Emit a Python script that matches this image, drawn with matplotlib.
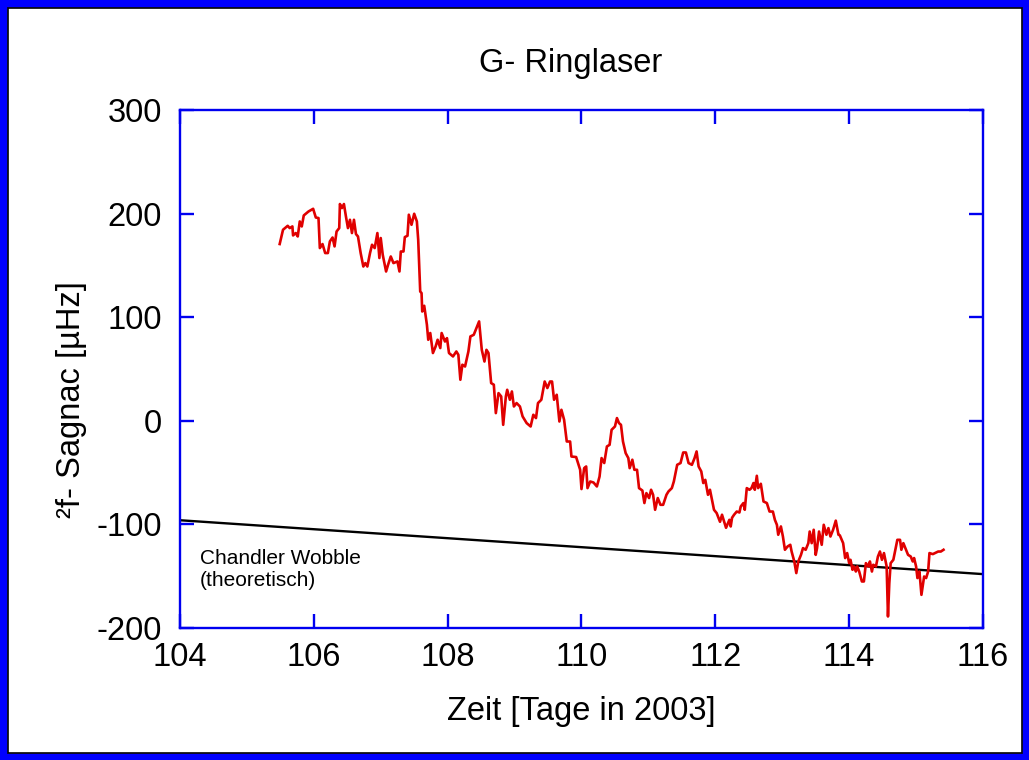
import matplotlib
matplotlib.use("Agg")
import matplotlib.pyplot as plt
from matplotlib.patches import Rectangle

plt.rcParams['font.family'] = ['Liberation Sans', 'DejaVu Sans']
plt.rcParams['axes.unicode_minus'] = False

# ---------- DATA ----------
days = [
    105.49, 105.54, 105.61, 105.64, 105.68, 105.69, 105.73, 105.76, 105.79, 105.82,
    105.85, 105.92, 105.99, 106.03, 106.07, 106.09, 106.13, 106.17, 106.21, 106.24,
    106.28, 106.31, 106.34, 106.38, 106.39, 106.42, 106.45, 106.48, 106.51, 106.54,
    106.57, 106.60, 106.63, 106.66, 106.70, 106.74, 106.77, 106.80, 106.84, 106.87,
    106.91, 106.95, 106.98, 107.00, 107.03, 107.08, 107.11, 107.15, 107.19, 107.25,
    107.28, 107.30, 107.34, 107.36, 107.40, 107.42, 107.46, 107.50, 107.54, 107.56,
    107.59, 107.61, 107.62, 107.65, 107.69, 107.71, 107.74, 107.78, 107.82, 107.85,
    107.89, 107.91, 107.96, 107.99, 108.02, 108.08, 108.13, 108.16, 108.19, 108.22,
    108.26, 108.31, 108.34, 108.39, 108.42, 108.47, 108.51, 108.55, 108.58, 108.61,
    108.65, 108.69, 108.72, 108.76, 108.80, 108.83, 108.87, 108.89, 108.93, 108.96,
    108.99, 109.03, 109.08, 109.12, 109.18, 109.24, 109.28, 109.32, 109.35, 109.40,
    109.45, 109.49, 109.53, 109.56, 109.59, 109.63, 109.67, 109.70, 109.74, 109.78,
    109.83, 109.85, 109.92, 109.98, 110.00, 110.04, 110.07, 110.09, 110.13, 110.18,
    110.23, 110.27, 110.30, 110.34, 110.38, 110.42, 110.45, 110.50, 110.53, 110.56,
    110.59, 110.62, 110.66, 110.70, 110.72, 110.76, 110.79, 110.83, 110.86, 110.91,
    110.94, 110.97, 111.01, 111.04, 111.07, 111.10, 111.14, 111.18, 111.22, 111.27,
    111.30, 111.35, 111.38, 111.43, 111.48, 111.52, 111.56, 111.60, 111.65, 111.69,
    111.72, 111.75, 111.79, 111.82, 111.85, 111.89, 111.92, 111.95, 111.98, 112.02,
    112.07, 112.10, 112.16, 112.21, 112.23, 112.25, 112.28, 112.32, 112.36, 112.38,
    112.42, 112.44, 112.47, 112.51, 112.54, 112.57, 112.59, 112.62, 112.64, 112.68,
    112.72, 112.77, 112.81, 112.86, 112.89, 112.92, 112.94, 112.98, 113.01, 113.04,
    113.08, 113.12, 113.14, 113.18, 113.21, 113.24, 113.28, 113.31, 113.35, 113.39,
    113.41, 113.44, 113.47, 113.50, 113.52, 113.55, 113.59, 113.62, 113.66, 113.69,
    113.72, 113.76, 113.80, 113.84, 113.86, 113.91, 113.94, 113.97, 114.00, 114.02,
    114.05, 114.07, 114.10, 114.12, 114.15, 114.19, 114.22, 114.25, 114.29, 114.31,
    114.34, 114.36, 114.40, 114.43, 114.46, 114.49, 114.52, 114.56, 114.58, 114.60,
    114.62, 114.66, 114.68, 114.72, 114.76, 114.78, 114.81, 114.84, 114.88, 114.92,
    114.95, 114.97, 115.00, 115.02, 115.05, 115.08, 115.12, 115.15, 115.18, 115.20,
    115.25, 115.30, 115.33, 115.37, 115.41,
]
sagnac = [
    170.6, 184.4, 188.2, 186.0, 187.6, 178.9, 181.2, 177.9, 192.4, 187.6,
    198.2, 202.0, 204.6, 196.2, 195.7, 166.7, 170.6, 161.9, 161.9, 173.1,
    176.9, 168.3, 182.7, 186.0, 209.2, 205.3, 209.2, 197.2, 186.0, 194.0,
    181.2, 194.0, 180.2, 177.9, 161.9, 148.9, 152.2, 148.9, 161.9, 169.9,
    166.7, 181.2, 157.1, 176.4, 160.2, 144.1, 150.6, 158.6, 152.2, 153.8,
    144.1, 163.4, 163.4, 177.3, 178.6, 198.9, 189.2, 199.8, 192.4, 174.7,
    124.8, 123.3, 105.5, 111.0, 92.7, 78.2, 84.7, 65.4, 71.7, 78.2,
    70.2, 84.7, 76.5, 79.8, 65.4, 62.1, 66.9, 63.7, 39.6, 54.1,
    52.4, 66.9, 81.4, 83.0, 87.8, 95.9, 68.5, 57.2, 68.5, 65.4,
    36.4, 34.8, 7.4, 26.7, 23.5, -3.9, 23.5, 29.9, 20.3, 28.3,
    13.8, 17.1, 13.8, 4.2, -2.2, -5.5, 5.8, 2.6, 17.1, 20.3,
    37.9, 31.6, 37.9, 37.9, 20.3, 25.1, -0.7, 10.6, 1.0, -20.0,
    -20.0, -34.5, -35.0, -47.3, -65.9, -45.7, -44.1, -65.0, -58.6, -59.6,
    -63.4, -53.8, -36.0, -40.8, -24.8, -23.2, -8.7, -5.5, 2.6, -2.2,
    -3.9, -20.0, -31.2, -36.0, -45.7, -37.6, -47.3, -47.3, -65.0, -67.3,
    -79.4, -69.8, -74.6, -66.6, -71.4, -85.9, -74.6, -81.1, -81.1, -71.4,
    -68.2, -65.0, -58.6, -42.5, -40.8, -30.6, -30.6, -40.8, -42.5, -36.0,
    -29.6, -44.1, -48.9, -60.1, -57.0, -71.4, -66.6, -76.3, -85.9, -89.1,
    -97.5, -90.7, -103.3, -95.6, -102.0, -93.6, -90.7, -87.6, -88.5, -82.7,
    -79.4, -85.9, -65.0, -66.6, -65.0, -60.1, -66.6, -53.1, -65.0, -60.8,
    -77.9, -79.4, -87.6, -87.6, -95.6, -100.4, -110.0, -102.0, -111.7, -124.5,
    -121.3, -119.7, -126.2, -135.8, -147.0, -135.8, -129.4, -122.9, -124.5, -118.1,
    -106.9, -118.1, -105.2, -129.4, -122.9, -106.9, -119.7, -100.4, -110.0, -103.6,
    -111.7, -105.2, -96.4, -110.0, -110.5, -118.1, -132.5, -127.7, -137.4, -134.2,
    -143.8, -140.6, -145.5, -140.6, -145.5, -155.1, -155.1, -137.4, -140.6, -135.8,
    -145.5, -139.0, -140.6, -131.0, -126.2, -134.2, -127.7, -140.6, -188.9, -156.7,
    -137.4, -134.2, -127.7, -114.9, -114.9, -124.5, -118.1, -122.9, -129.4, -131.0,
    -135.8, -132.5, -140.6, -151.8, -145.5, -168.0, -150.3, -151.8, -145.5, -127.7,
    -128.7, -127.1, -126.2, -126.2, -124.5,
]

# Chandler Wobble (theoretisch)
cw_days = [104, 110, 116]
cw_vals = [-96, -122, -148]

BLUE = "#0000f0"
RED = "#e00000"
FS = 23.5

fig = plt.figure(figsize=(10.29, 7.6), dpi=100)
ax = fig.add_axes([0.1749, 0.1737, 0.7804, 0.6816])

ax.plot(cw_days, cw_vals, color="black", lw=1.7)
ax.plot(days, sagnac, color=RED, lw=1.9)

ax.text(104.3, -124, "Chandler Wobble\n(theoretisch)", fontsize=15,
        va="top", ha="left", linespacing=1.2)

ax.set_xlim(104, 116)
ax.set_ylim(-200, 300)
ax.set_xticks(range(104, 117, 2))
ax.set_yticks(range(-200, 301, 100))

for s in ax.spines.values():
    s.set_color(BLUE)
    s.set_linewidth(1.7)
ax.tick_params(direction="in", length=10, width=1.7, color=BLUE,
               top=True, right=True, labelsize=FS)
ax.tick_params(axis="y", pad=13)
ax.tick_params(axis="x", pad=10)

ax.set_title("G- Ringlaser", fontsize=FS, pad=27, x=0.486)
ax.set_xlabel("Zeit [Tage in 2003]", fontsize=FS, labelpad=17)
ax.set_ylabel("²f- Sagnac [µHz]", fontsize=FS)
ax.yaxis.set_label_coords(-0.116, 0.44)

# blue frame round the whole picture
fig.patches.append(Rectangle((0, 0), 1, 1, transform=fig.transFigure,
                             fill=False, edgecolor="blue", lw=10.5))
fig.patches.append(Rectangle((7.5 / 1029, 7.5 / 760), 1 - 15 / 1029, 1 - 15 / 760,
                             transform=fig.transFigure, fill=False,
                             edgecolor="black", lw=1.2))

fig.savefig("out.png", dpi=100)
